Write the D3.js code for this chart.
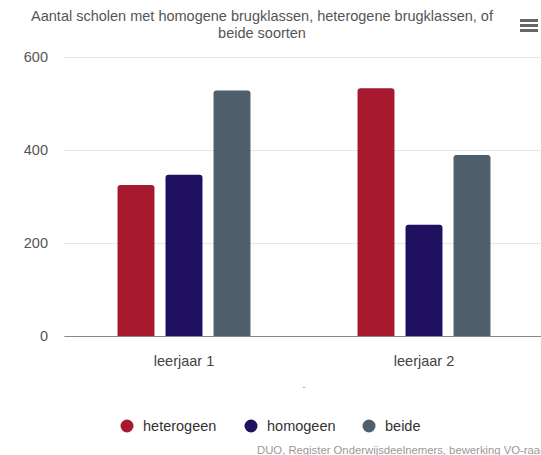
<!DOCTYPE html>
<html>
<head>
<meta charset="utf-8">
<script src="https://cdn.jsdelivr.net/npm/d3@7"></script>
<style>
  body { margin: 0; background: #fff; font-family: "Liberation Sans", Arial, sans-serif; }
</style>
</head>
<body>
<svg></svg>
<script>
var width = 541;
var height = 455;

// data
var categories = ["leerjaar 1", "leerjaar 2"];
var seriesNames = ["heterogeen", "homogeen", "beide"];
var heterogeen = [325, 533];
var homogeen = [347, 239];
var beide = [528, 389];
var yTicks = [0, 200, 400, 600];
var colors = ["#a6192e", "#1f1160", "#4f5f6b"];

var seriesValues = [heterogeen, homogeen, beide];

var svg = d3.select('svg')
    .attr('width', width)
    .attr('height', height);

var x = d3.scaleBand()
    .domain(categories)
    .range([64, 544]);

var xInner = d3.scaleBand()
    .domain(seriesNames)
    .range([0, x.bandwidth()])
    .paddingInner(0.23)
    .paddingOuter(1.115);

var y = d3.scaleLinear()
    .domain([0, 600])
    .range([336, 57]);

// title
var title = svg.append('text')
    .attr('x', 262)
    .attr('y', 21)
    .attr('text-anchor', 'middle')
    .attr('fill', '#555')
    .style('font-size', '14.5px');
title.append('tspan').attr('x', 262).text('Aantal scholen met homogene brugklassen, heterogene brugklassen, of');
title.append('tspan').attr('x', 262).attr('dy', 17).text('beide soorten');

// menu icon
svg.append('g')
    .selectAll('rect')
    .data([0, 1, 2])
    .enter()
    .append('rect')
    .attr('x', 520)
    .attr('y', d => 19 + d * 5)
    .attr('width', 18)
    .attr('height', 3)
    .attr('fill', '#666');

// gridlines + y labels
var yAxis = d3.axisLeft(y)
    .tickValues(yTicks)
    .tickSize(-(544 - 64))
    .tickPadding(16);

var gy = svg.append('g')
    .attr('transform', 'translate(64,0)')
    .call(yAxis);
gy.select('.domain').remove();
gy.selectAll('line').attr('stroke', '#e6e6e6');
gy.selectAll('text')
    .attr('fill', '#555')
    .style('font-size', '14.5px')
    .style('font-family', '"Liberation Sans", Arial, sans-serif');

// bars
var groups = svg.append('g')
    .selectAll('g')
    .data(categories)
    .enter()
    .append('g')
    .attr('transform', d => `translate(${x(d)},0)`);

groups.selectAll('path')
    .data((c, i) => seriesNames.map((s, j) => ({ s: s, v: seriesValues[j][i], color: colors[j] })))
    .enter()
    .append('path')
    .attr('fill', d => d.color)
    .attr('d', function(d) {
        var x0 = xInner(d.s), w = xInner.bandwidth();
        var top = y(d.v), bot = y(0), r = 3;
        return `M${x0},${bot}V${top + r}Q${x0},${top} ${x0 + r},${top}H${x0 + w - r}Q${x0 + w},${top} ${x0 + w},${top + r}V${bot}Z`;
    });

// x axis
var gx = svg.append('g')
    .attr('transform', 'translate(0,336)')
    .call(d3.axisBottom(x).tickSize(0).tickPadding(20));
gx.select('.domain').attr('stroke', '#888').attr('stroke-width', 1.2);
gx.selectAll('text')
    .attr('fill', '#444')
    .style('font-size', '14.5px')
    .style('font-family', '"Liberation Sans", Arial, sans-serif');

// axis title (a single dot in the original)
svg.append('text')
    .attr('x', 304)
    .attr('y', 388)
    .attr('text-anchor', 'middle')
    .attr('fill', '#666')
    .style('font-size', '10px')
    .text('.');

// legend
var legendX = [127, 251, 369];
var legend = svg.append('g')
    .selectAll('g')
    .data(seriesNames)
    .enter()
    .append('g')
    .attr('transform', (d, i) => `translate(${legendX[i]},426)`);
legend.append('circle')
    .attr('r', 6.5)
    .attr('fill', (d, i) => colors[i]);
legend.append('text')
    .attr('x', 16)
    .attr('y', 5)
    .attr('fill', '#333')
    .style('font-size', '14.5px')
    .text(d => d);

// credits
svg.append('text')
    .attr('x', 257)
    .attr('y', 454)
    .attr('fill', '#999')
    .style('font-size', '11.3px')
    .text('DUO, Register Onderwijsdeelnemers, bewerking VO-raad');
</script>
</body>
</html>
